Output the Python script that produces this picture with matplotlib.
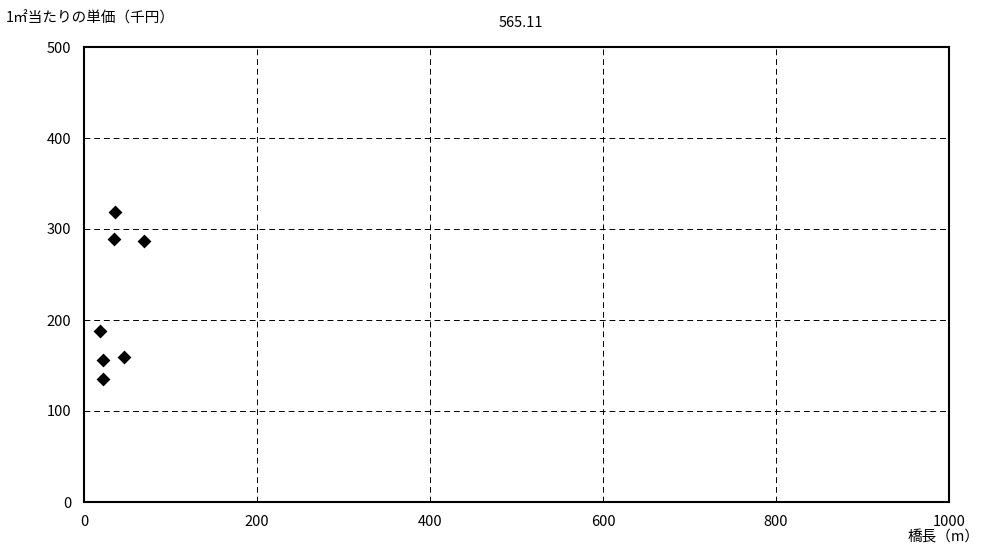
import matplotlib
matplotlib.use('Agg')
import matplotlib.pyplot as plt

plt.rcParams['font.family'] = ['Noto Sans CJK JP', 'DejaVu Sans']

# bridge length (m) vs unit price per m2 (thousand yen)
bridge_length = [36.4, 35.2, 69.1, 18.3, 21.7, 22.5, 46.8]
unit_price = [318.7, 289, 287, 188, 156, 135.5, 159.7]

x_ticks = [0, 200, 400, 600, 800, 1000]
y_ticks = [0, 100, 200, 300, 400, 500]

fig = plt.figure(figsize=(9.84, 5.58), dpi=100)
ax = fig.add_axes([84 / 984, 56 / 558, 865 / 984, 455 / 558])

ax.scatter(bridge_length, unit_price, marker='D', s=50, color='black',
           zorder=3, linewidths=0)

ax.set_xlim(0, 1000)
ax.set_ylim(0, 500)
ax.set_xticks(x_ticks)
ax.set_yticks(y_ticks)
ax.tick_params(length=0, labelsize=10.5, pad=9)
ax.grid(True, color='black', linestyle=(0, (6, 4)), linewidth=0.7)
for s in ax.spines.values():
    s.set_linewidth(1.5)

fig.text(6 / 984, 1 - 18 / 558, '1㎡当たりの単価（千円）', fontsize=10.5,
         ha='left', va='center')
fig.text(521 / 984, 1 - 23 / 558, '565.11', fontsize=10.5,
         ha='center', va='center')
fig.text(980 / 984, 1 - 538 / 558, '橋長（m）', fontsize=10.5,
         ha='right', va='center')

fig.savefig('out.png', dpi=100)
